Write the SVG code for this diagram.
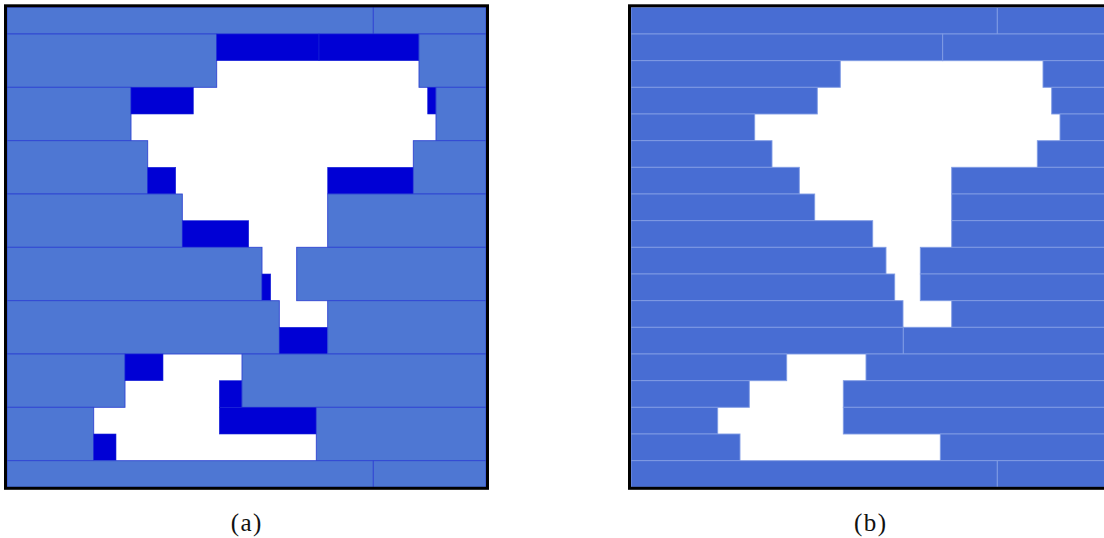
<svg xmlns="http://www.w3.org/2000/svg" width="1104" height="538" viewBox="0 0 1104 538">
<style>
.la{fill:#4E77D3;stroke:#2F45D2;stroke-width:0.9}
.da{fill:#0000D5;stroke:#1A26D8;stroke-width:0.6}
.lb{fill:#486DD3;stroke:#819CE4;stroke-width:0.9}
.frame{fill:none;stroke:#000;stroke-width:3}
.cap{font-family:"Liberation Serif","DejaVu Serif",serif;font-size:25px;letter-spacing:1.5px;fill:#111;text-anchor:middle}
</style>
<rect width="1104" height="538" fill="#fff"/>
<g id="panel-a">
<g id="a-row0"><rect class="la" x="7" y="7.3" width="366.3" height="26.7"/><rect class="la" x="373.3" y="7.3" width="112.7" height="26.7"/></g>
<g id="a-strip1"><rect class="la" x="7" y="34" width="209.7" height="53.3"/><rect class="da" x="216.7" y="34" width="102.3" height="26.7"/><rect class="da" x="319" y="34" width="100" height="26.7"/><rect class="la" x="419" y="34" width="67" height="53.3"/></g>
<g id="a-strip2"><rect class="la" x="7" y="87.3" width="124" height="53.4"/><rect class="da" x="131" y="87.3" width="62.3" height="26.7"/><rect class="da" x="427.7" y="87.3" width="8.3" height="26.7"/><rect class="la" x="436" y="87.3" width="50" height="53.4"/></g>
<g id="a-strip3"><rect class="la" x="7" y="140.7" width="140.7" height="53.3"/><rect class="da" x="147.7" y="167.3" width="28" height="26.7"/><rect class="da" x="327.7" y="167.3" width="85.6" height="26.7"/><rect class="la" x="413.3" y="140.7" width="72.7" height="53.3"/></g>
<g id="a-strip4"><rect class="la" x="7" y="194" width="175.3" height="53.3"/><rect class="da" x="182.3" y="220.7" width="66.4" height="26.6"/><rect class="la" x="327.7" y="194" width="158.3" height="53.3"/></g>
<g id="a-strip5"><rect class="la" x="7" y="247.3" width="255" height="53.4"/><rect class="da" x="262" y="274" width="8.7" height="26.7"/><rect class="la" x="296.7" y="247.3" width="189.3" height="53.4"/></g>
<g id="a-strip6"><rect class="la" x="7" y="300.7" width="272.3" height="53.3"/><rect class="da" x="279.3" y="327.3" width="48.4" height="26.7"/><rect class="la" x="327.7" y="300.7" width="158.3" height="53.3"/></g>
<g id="a-strip7"><rect class="la" x="7" y="354" width="118" height="53.3"/><rect class="da" x="125" y="354" width="38" height="26.7"/><rect class="da" x="219.3" y="380.7" width="22.7" height="26.6"/><rect class="la" x="242" y="354" width="244" height="53.3"/></g>
<g id="a-strip8"><rect class="la" x="7" y="407.3" width="86.7" height="53.4"/><rect class="da" x="219.3" y="407.3" width="97" height="26.7"/><rect class="da" x="93.7" y="434" width="22.3" height="26.7"/><rect class="la" x="316.3" y="407.3" width="169.7" height="53.4"/></g>
<g id="a-row9"><rect class="la" x="7" y="460.7" width="366.3" height="26.6"/><rect class="la" x="373.3" y="460.7" width="112.7" height="26.6"/></g>
<rect class="frame" x="5.5" y="5.8" width="482" height="482.5"/>
<text class="cap" x="246.8" y="531">(a)</text>
</g>
<g id="panel-b">
<g id="b-row0"><rect class="lb" x="631" y="7.3" width="366.3" height="26.7"/><rect class="lb" x="997.3" y="7.3" width="113" height="26.7"/></g>
<g id="b-row1"><rect class="lb" x="631" y="34" width="311.7" height="26.7"/><rect class="lb" x="942.7" y="34" width="168" height="26.7"/></g>
<g id="b-row2"><rect class="lb" x="631" y="60.7" width="209.3" height="26.6"/><rect class="lb" x="1043" y="60.7" width="68" height="26.6"/></g>
<g id="b-row3"><rect class="lb" x="631" y="87.3" width="186.3" height="26.7"/><rect class="lb" x="1051.7" y="87.3" width="59" height="26.7"/></g>
<g id="b-row4"><rect class="lb" x="631" y="114" width="123.7" height="26.7"/><rect class="lb" x="1060" y="114" width="51" height="26.7"/></g>
<g id="b-row5"><rect class="lb" x="631" y="140.7" width="141" height="26.6"/><rect class="lb" x="1037.3" y="140.7" width="73" height="26.6"/></g>
<g id="b-row6"><rect class="lb" x="631" y="167.3" width="168.3" height="26.7"/><rect class="lb" x="951.7" y="167.3" width="159" height="26.7"/></g>
<g id="b-row7"><rect class="lb" x="631" y="194" width="183.7" height="26.7"/><rect class="lb" x="951.7" y="194" width="159" height="26.7"/></g>
<g id="b-row8"><rect class="lb" x="631" y="220.7" width="241.7" height="26.6"/><rect class="lb" x="951.7" y="220.7" width="159" height="26.6"/></g>
<g id="b-row9"><rect class="lb" x="631" y="247.3" width="255" height="26.7"/><rect class="lb" x="920.3" y="247.3" width="190" height="26.7"/></g>
<g id="b-row10"><rect class="lb" x="631" y="274" width="263.7" height="26.7"/><rect class="lb" x="920.3" y="274" width="190" height="26.7"/></g>
<g id="b-row11"><rect class="lb" x="631" y="300.7" width="272" height="26.6"/><rect class="lb" x="951.7" y="300.7" width="159" height="26.6"/></g>
<g id="b-row12"><rect class="lb" x="631" y="327.3" width="272.3" height="26.7"/><rect class="lb" x="903.3" y="327.3" width="207" height="26.7"/></g>
<g id="b-row13"><rect class="lb" x="631" y="354" width="155.7" height="26.7"/><rect class="lb" x="866" y="354" width="245" height="26.7"/></g>
<g id="b-row14"><rect class="lb" x="631" y="380.7" width="118.3" height="26.6"/><rect class="lb" x="843.3" y="380.7" width="267" height="26.6"/></g>
<g id="b-row15"><rect class="lb" x="631" y="407.3" width="86.7" height="26.7"/><rect class="lb" x="843.3" y="407.3" width="267" height="26.7"/></g>
<g id="b-row16"><rect class="lb" x="631" y="434" width="109" height="26.7"/><rect class="lb" x="940.3" y="434" width="170" height="26.7"/></g>
<g id="b-row17"><rect class="lb" x="631" y="460.7" width="366.3" height="26.6"/><rect class="lb" x="997.3" y="460.7" width="113" height="26.6"/></g>
<rect class="frame" x="629.5" y="5.8" width="482" height="482.5"/>
<text class="cap" x="870.8" y="531">(b)</text>
</g>
</svg>
